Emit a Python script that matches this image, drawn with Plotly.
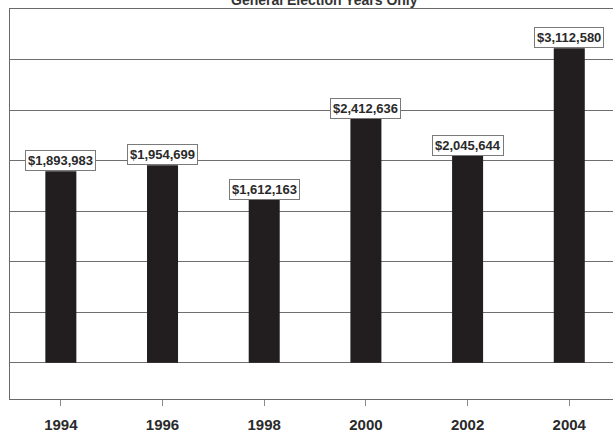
import plotly.graph_objects as go

years = ["1994", "1996", "1998", "2000", "2002", "2004"]
amounts = [1893983, 1954699, 1612163, 2412636, 2045644, 3112580]
labels = ["$1,893,983", "$1,954,699", "$1,612,163", "$2,412,636", "$2,045,644", "$3,112,580"]
title_text = "General Election Years Only"

fig = go.Figure()
fig.add_trace(go.Bar(
    x=years, y=amounts,
    marker=dict(color="#221d1e", line=dict(width=0)),
    hoverinfo="skip",
))

for i, (v, lab) in enumerate(zip(amounts, labels)):
    fig.add_annotation(
        x=i, y=v, xref="x", yref="y", text="<b>" + lab.replace("$", "&#36;") + "</b>",
        showarrow=False, yanchor="bottom", xanchor="center",
        font=dict(family="Liberation Sans, Arial", size=13, color="#2a2a2a"),
        bgcolor="white", bordercolor="#7a7a7a", borderwidth=1, borderpad=2,
    )

fig.add_annotation(
    x=0.522, xref="paper", y=1, yref="paper", yanchor="bottom", xanchor="center",
    text="<b>" + title_text + "</b>", showarrow=False, yshift=-1,
    font=dict(family="Liberation Sans, Arial", size=14, color="#333333"),
)

fig.update_layout(
    width=613, height=435,
    margin=dict(l=10, r=0, t=9, b=36),
    paper_bgcolor="white", plot_bgcolor="white",
    bargap=0.695, showlegend=False,
    xaxis=dict(
        type="category", range=[-0.5, 5.43],
        showline=True, linecolor="#6a6a6a", linewidth=1, mirror=True,
        ticks="outside", ticklen=6, tickcolor="#8a8a8a", tickwidth=1,
        ticklabelstandoff=6,
        tickfont=dict(family="Liberation Sans, Arial", size=15, color="#2a2a2a"),
        showgrid=False, tickprefix="<b>", ticksuffix="</b>",
    ),
    yaxis=dict(
        range=[-360000, 3500000], dtick=500000, tick0=0,
        showgrid=True, gridcolor="#6f6f6f", gridwidth=1,
        showticklabels=False, ticks="", zeroline=True, zerolinecolor="#6f6f6f", zerolinewidth=1,
        showline=True, linecolor="#6a6a6a", linewidth=1, mirror=True,
    ),
)

fig.write_html("out.html", config={"displayModeBar": False},
               post_script="document.body.style.margin='0';document.body.style.padding='0';")
